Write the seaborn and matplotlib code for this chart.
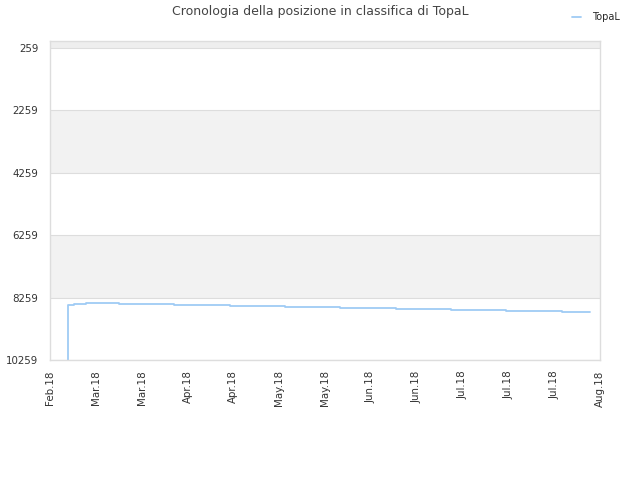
import matplotlib
matplotlib.use('Agg')
import matplotlib.pyplot as plt
import pandas as pd
import seaborn as sns

# Data (days from the first tick, rank position)
days = [5.9, 7.9, 11.8, 22.6, 40.6, 58.9, 76.9, 94.9, 113.2, 131.2, 149.2, 167.6, 176.7]
positions = [10259, 8496, 8464, 8422, 8455, 8487, 8519, 8551, 8583, 8615, 8647, 8679, 8711]
x_ticks = [0, 15, 30, 45, 60, 75, 90, 105, 120, 135, 150, 165, 180]
x_labels = ['Feb.18', 'Mar.18', 'Mar.18', 'Apr.18', 'Apr.18', 'May.18', 'May.18',
            'Jun.18', 'Jun.18', 'Jul.18', 'Jul.18', 'Jul.18', 'Aug.18']
y_ticks = [259, 2259, 4259, 6259, 8259, 10259]

df = pd.DataFrame({'day': days, 'position': positions})

sns.set_style('white')
plt.rcParams['font.family'] = ['DejaVu Sans']

fig = plt.figure(figsize=(6.4, 4.8), dpi=100)
ax = fig.add_axes([50 / 640, 120 / 480, 550 / 640, 319 / 480])

# alternating horizontal bands
bands = [(-1741, 259, '#eeeeee'), (2259, 4259, '#f2f2f2'), (6259, 8259, '#f2f2f2')]
for lo, hi, c in bands:
    ax.axhspan(lo, hi, color=c, zorder=0, lw=0)

sns.lineplot(data=df, x='day', y='position', drawstyle='steps-pre',
             color='#9fcbf5', linewidth=1.3, label='TopaL', ax=ax)

ax.set_xlim(0, 180)
ax.set_ylim(10259, 35)
ax.set_xticks(x_ticks)
ax.set_xticklabels(x_labels, rotation=90)
ax.set_yticks(y_ticks)
ax.set_yticklabels([str(v) for v in y_ticks])
ax.tick_params(axis='both', labelsize=7.4, colors='#333333', length=0)
ax.tick_params(axis='y', pad=8.5)
ax.tick_params(axis='x', pad=7.5)
ax.set_xlabel('')
ax.set_ylabel('')
for v in y_ticks:
    ax.axhline(v, color='#dddddd', lw=0.8, zorder=1)
for s in ax.spines.values():
    s.set_color('#dddddd')
    s.set_linewidth(1)

fig.text(0.5, 1 - 12 / 480, 'Cronologia della posizione in classifica di TopaL',
         ha='center', va='center', fontsize=9, color='#444444')
ax.legend(loc='upper right', bbox_to_anchor=(0.982, 0.993), bbox_transform=fig.transFigure,
          frameon=False, fontsize=7, handlelength=0.9, handletextpad=1.1)

fig.savefig('out.png', dpi=100)
